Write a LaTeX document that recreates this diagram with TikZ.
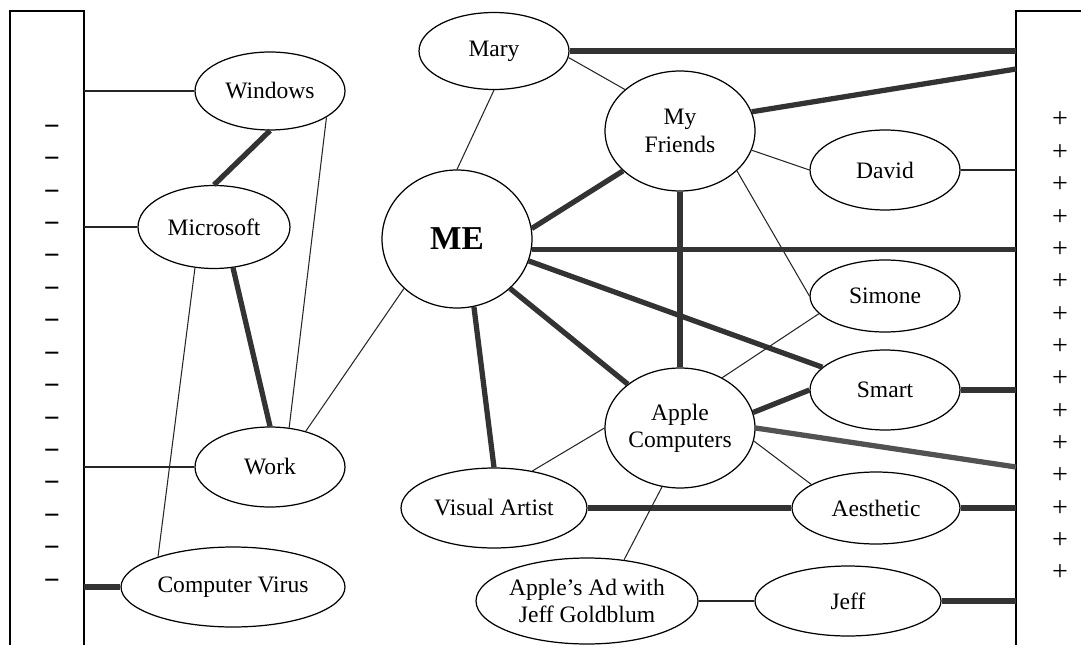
\documentclass[tikz,border=0pt]{standalone}
\usepackage{fontspec}
\setmainfont{Liberation Serif}
\usetikzlibrary{shapes.geometric}
\tikzset{
  blob/.style={draw, ellipse, line width=0.7pt, inner sep=0pt, align=center,
    font=\fontsize{13.4}{15.5}\selectfont},
  signmark/.style={inner sep=0pt, font=\fontsize{16}{16}\selectfont},
  weak/.style={line width=0.6pt, black!85},
  strong/.style={line width=3pt, black!80},
}
\begin{document}
\begin{tikzpicture}[x=0.02cm, y=-0.02cm]
	\useasboundingbox (0,0) rectangle (1081,645);
	% side bars
		\draw[line width=0.7pt] (10,645) -- (10,11) -- (84,11) -- (84,645);
		\draw[line width=0.7pt] (1081,11) -- (1016,11) -- (1016,645);
		\coordinate (lbar) at (84,0);
		\coordinate (rbar) at (1016,0);
		\coordinate (rb1) at (1016,69);
		\coordinate (rb2) at (1016,467);
	% minus and plus signs
		\foreach \i in {0,...,14}{
			\node[signmark, font=\fontsize{16}{16}\selectfont\bfseries] (minus\i) at (52,130+32.43*\i) {−};
			\node[signmark] (plus\i) at (1060,120+32.36*\i) {+};
			}
	% left cluster
		\node[blob, minimum width=3cm, minimum height=1.56cm] (Windows) at (270,91) {Windows};
		\node[blob, minimum width=3.04cm, minimum height=1.66cm] (Microsoft) at (214,227) {Microsoft};
		\node[blob, minimum width=3cm, minimum height=1.6cm] (Work) at (270,467) {Work};
		\node[blob, minimum width=4.48cm, minimum height=1.6cm] (Virus) at (233,587) {Computer Virus};
	% middle
		\node[blob, minimum width=3cm, minimum height=1.54cm] (Mary) at (494,51) {Mary};
		\node[blob, minimum width=3cm, minimum height=2.76cm,
			font=\fontsize{19}{20}\selectfont\bfseries] (ME) at (457,239) {ME};
		\node[blob, minimum width=3cm, minimum height=2.4cm] (Friends) at (680,131) {My\\Friends};
		\node[blob, minimum width=3cm, minimum height=2.4cm] (Apple) at (680,428) {Apple\\Computers};
		\node[blob, minimum width=3.72cm, minimum height=1.6cm] (Artist) at (494,508) {Visual Artist};
		\node[blob, minimum width=4.44cm, minimum height=1.72cm] (Ad) at (587,601) {Apple’s Ad with\\Jeff Goldblum};
	% right cluster
		\node[blob, minimum width=3cm, minimum height=1.6cm] (David) at (885,170) {David};
		\node[blob, minimum width=3cm, minimum height=1.44cm] (Simone) at (885,296) {Simone};
		\node[blob, minimum width=3cm, minimum height=1.6cm] (Smart) at (885,390) {Smart};
		\node[blob, minimum width=3.36cm, minimum height=1.44cm] (Aesthetic) at (876,508) {Aesthetic};
		\node[blob, minimum width=3.72cm, minimum height=1.4cm] (Jeff) at (848,601) {Jeff};
	% links to the left bar
		\draw[weak] (Windows) -- (Windows -| lbar);
		\draw[weak] (Microsoft) -- (Microsoft -| lbar);
		\draw[weak] (Work) -- (Work -| lbar);
		\draw[strong] (Virus) -- (Virus -| lbar);
	% links on the left
		\draw[strong] (Windows.south) -- (Microsoft.north);
		\draw[strong] (Microsoft.-65) -- (Work.north);
		\draw[weak] (Microsoft.-115) -- (Virus.158);
		\draw[weak] (Windows.-25) -- (Work.64);
		\draw[weak] (Work.45) -- (ME.-137);
	% links in the middle
		\draw[weak] (Mary.south) -- (ME.north);
		\draw[weak] (Mary.-5) -- (Friends.143);
		\draw[strong] (Friends.-145) -- (ME.8);
		\draw[strong] (Friends.south) -- (Apple.north);
		\draw[weak] (Friends.-15) -- (David.west);
		\draw[weak] (Friends.-35) -- (Simone.west);
		\draw[strong] (ME.-17) -- (Smart.160);
		\draw[strong] (ME.-43) -- (Apple.140);
		\draw[strong] (ME.-76) -- (Artist.north);
		\draw[weak] (Apple.50) -- (Simone.-165);
		\draw[strong] (Apple.12) -- (Smart.west);
		\draw[weak] (Apple.-10) -- (Aesthetic.160);
		\draw[weak] (Artist.44) -- (Apple.west);
		\draw[strong] (Artist) -- (Aesthetic);
		\draw[weak] (Apple.-107) -- (Ad.48);
		\draw[weak] (Ad) -- (Jeff);
	% links to the right bar
		\draw[strong] (Mary) -- (Mary -| rbar);
		\draw[strong] (Friends.15) -- (rb1);
		\draw[weak] (David) -- (David -| rbar);
		\draw[strong] (ME.-8) -- (ME.-8 -| rbar);
		\draw[strong] (Smart) -- (Smart -| rbar);
		\draw[strong, black!68] (Apple.east) -- (rb2);
		\draw[strong] (Aesthetic) -- (Aesthetic -| rbar);
		\draw[strong] (Jeff) -- (Jeff -| rbar);
\end{tikzpicture}
\end{document}
